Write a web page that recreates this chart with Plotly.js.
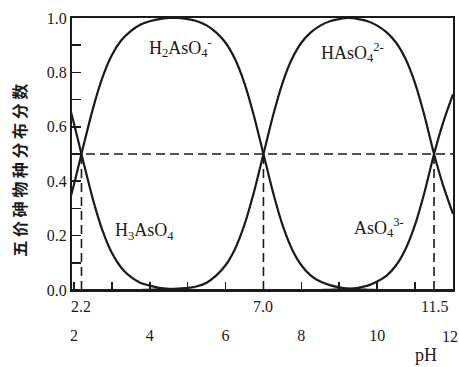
<!DOCTYPE html>
<html><head><meta charset="utf-8">
<script src="https://cdn.plot.ly/plotly-3.0.1.min.js"></script>
<style>html,body{margin:0;padding:0;background:#fff}#chart{width:459px;height:367px}</style>
</head><body><div id="chart"></div>
<script>
// pH grid
const pH = [1.9, 2.0, 2.25, 2.5, 2.75, 3.0, 3.25, 3.5, 3.75, 4.0, 4.25, 4.5, 4.75, 5.0, 5.25, 5.5, 5.75, 6.0, 6.25, 6.5, 6.75, 7.0,
            7.25, 7.5, 7.75, 8.0, 8.25, 8.5, 8.75, 9.0, 9.25, 9.5, 9.75, 10.0, 10.25, 10.5, 10.75, 11.0, 11.25, 11.5, 11.75, 12.0];
// distribution fractions of each species
const fracH3AsO4 = [0.666, 0.613, 0.471, 0.334, 0.220, 0.137, 0.082, 0.048, 0.027, 0.016, 0.008, 0.004, 0.002, 0.001, 0, 0, 0, 0, 0, 0, 0, 0,
                    0, 0, 0, 0, 0, 0, 0, 0, 0, 0, 0, 0, 0, 0, 0, 0, 0, 0, 0, 0];
const fracH2AsO4 = [0.334, 0.387, 0.529, 0.666, 0.780, 0.863, 0.918, 0.952, 0.975, 0.988, 0.996, 1.0, 1.0, 0.996, 0.988, 0.973, 0.947, 0.909, 0.849, 0.760, 0.640, 0.5,
                    0.360, 0.240, 0.151, 0.091, 0.053, 0.031, 0.018, 0.010, 0.005, 0.002, 0.001, 0, 0, 0, 0, 0, 0, 0, 0, 0];
const fracHAsO4 = [0, 0, 0, 0, 0, 0, 0, 0, 0, 0.001, 0.002, 0.003, 0.005, 0.008, 0.014, 0.027, 0.053, 0.091, 0.151, 0.240, 0.360, 0.5,
                   0.640, 0.760, 0.849, 0.909, 0.947, 0.972, 0.988, 0.996, 1.0, 0.996, 0.988, 0.972, 0.947, 0.909, 0.849, 0.760, 0.640, 0.5, 0.38, 0.28];
const fracAsO4 = [0, 0, 0, 0, 0, 0, 0, 0, 0, 0, 0, 0, 0, 0, 0, 0, 0, 0, 0, 0, 0, 0,
                  0, 0, 0, 0, 0, 0, 0.001, 0.002, 0.004, 0.008, 0.016, 0.031, 0.053, 0.091, 0.151, 0.240, 0.360, 0.5, 0.62, 0.72];

const speciesLabels = ['H<sub>3</sub>AsO<sub>4</sub>', 'H<sub>2</sub>AsO<sub>4</sub><sup>-</sup>', 'HAsO<sub>4</sub><sup>2-</sup>', 'AsO<sub>4</sub><sup>3-</sup>'];
const pKa = [2.2, 7.0, 11.5];
const pKaText = ['2.2', '7.0', '11.5'];
const halfFraction = 0.5;
const xTickVals = [2, 3, 4, 5, 6, 7, 8, 9, 10, 11, 12];
const xTickText = ['2', '', '4', '', '6', '', '8', '', '10', '', '12'];
const yTickVals = [0, 0.1, 0.2, 0.3, 0.4, 0.5, 0.6, 0.7, 0.8, 0.9, 1.0];
const yTickText = ['0.0', '', '0.2', '', '0.4', '', '0.6', '', '0.8', '', '1.0'];
const yTitle = '五 价 砷 物 种 分 布 分 数';
const xTitle = 'pH';

const serif = 'Liberation Serif, Times New Roman, serif';
const ink = '#1a1a1a';
const series = [fracH3AsO4, fracH2AsO4, fracHAsO4, fracAsO4];
const traces = series.map((ys, i) => ({
  x: pH, y: ys, type: 'scatter', mode: 'lines', name: speciesLabels[i],
  line: {color: ink, width: 2.2, shape: 'spline', smoothing: 0.6},
  hoverinfo: 'skip', cliponaxis: true
}));

const xMin = 1.95, xMax = 12.0;
const shapes = [{type: 'line', xref: 'x', yref: 'y', x0: xMin, x1: xMax, y0: halfFraction, y1: halfFraction,
                 line: {color: ink, width: 1.6, dash: '9px,5px'}}];
pKa.forEach(v => shapes.push({type: 'line', xref: 'x', yref: 'y', x0: v, x1: v, y0: 0, y1: halfFraction,
                 line: {color: ink, width: 1.6, dash: '9px,5px'}}));

const labelPos = [[3.85, 0.215], [4.8, 0.89], [9.35, 0.875], [10.05, 0.23]];
const annotations = speciesLabels.map((t, i) => ({
  x: labelPos[i][0], y: labelPos[i][1], xref: 'x', yref: 'y', text: t, showarrow: false,
  font: {family: serif, size: 18, color: ink}
}));
pKa.forEach((v, i) => annotations.push({
  x: v, y: 0, xref: 'x', yref: 'paper', yanchor: 'top', yshift: -6, text: pKaText[i], showarrow: false,
  font: {family: serif, size: 16, color: ink}
}));
// last x tick label, kept inside the page edge
const lastTick = xTickVals.length - 1;
annotations.push({x: xTickVals[lastTick], y: 0, xref: 'x', yref: 'paper', xanchor: 'right', yanchor: 'top',
  xshift: 7, yshift: -36, text: xTickText[lastTick], showarrow: false, font: {family: serif, size: 16, color: ink}});
const shownTickText = xTickText.map((t, i) => i === lastTick ? '' : t);
annotations.push({x: 0.93, y: -0.195, xref: 'paper', yref: 'paper', xanchor: 'center', yanchor: 'top',
  text: xTitle, showarrow: false, font: {family: serif, size: 18, color: ink}});
annotations.push({x: -0.138, y: 0.44, xref: 'paper', yref: 'paper', xanchor: 'center', yanchor: 'middle',
  text: yTitle, textangle: -90, showarrow: false,
  font: {family: 'Noto Sans CJK SC', size: 16, color: ink, weight: 'bold'}});

const layout = {
  width: 459, height: 367,
  margin: {l: 72, r: 6, t: 18, b: 77},
  paper_bgcolor: '#fff', plot_bgcolor: '#fff',
  showlegend: false,
  xaxis: {range: [xMin, xMax], tickmode: 'array', tickvals: xTickVals, ticktext: shownTickText,
          ticks: 'inside', ticklen: 8, tickwidth: 1.6, tickcolor: ink,
          showline: true, linewidth: 2, linecolor: ink, mirror: true, showgrid: false, zeroline: false,
          ticklabelstandoff: 30, tickfont: {family: serif, size: 16, color: ink}},
  yaxis: {range: [0, 1.0], tickmode: 'array', tickvals: yTickVals, ticktext: yTickText,
          ticks: 'inside', ticklen: 9, tickwidth: 1.6, tickcolor: ink,
          showline: true, linewidth: 2, linecolor: ink, mirror: true, showgrid: false, zeroline: false,
          tickfont: {family: serif, size: 16, color: ink}},
  shapes: shapes,
  annotations: annotations
};

Plotly.newPlot('chart', traces, layout, {displayModeBar: false, staticPlot: true});
</script>
</body></html>
